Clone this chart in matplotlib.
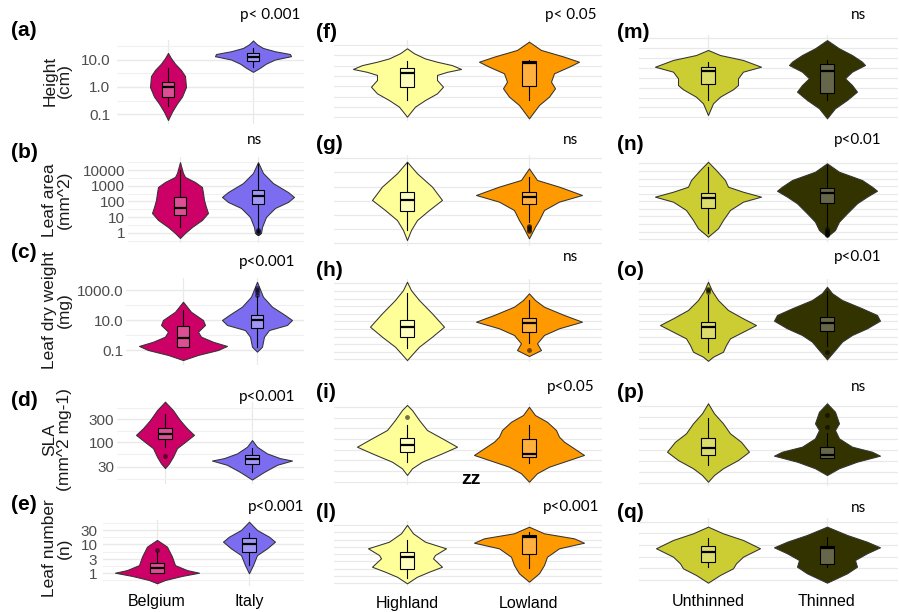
import matplotlib.pyplot as plt
import numpy as np
from matplotlib.patches import Rectangle

# ---- column 1: Belgium vs Italy (y in log10 units) ----
height_belgium = dict(y=[1.24, 1.05, 0.85, 0.62, 0.4, 0.0, -0.35, -0.6, -0.9, -1.2],
                      w=[0, 3, 7, 13, 17, 18, 14, 9, 4, 0],
                      box=[-0.69, -0.36, 0.0, 0.18, 0.69], out=[])
height_italy = dict(y=[1.69, 1.55, 1.42, 1.3, 1.2, 1.12, 1.0, 0.85, 0.7, 0.55],
                    w=[0, 4, 10, 22, 37, 38, 22, 13, 7, 0],
                    box=[0.73, 0.95, 1.09, 1.24, 1.42], out=[])
area_belgium = dict(y=[4.5, 3.81, 3.56, 3.24, 2.92, 2.54, 2.1, 1.65, 1.27, 0.83, 0.38, 0.0, -0.32],
                    w=[0, 3, 5, 15, 22, 23, 24, 26, 28, 22, 12, 5, 0],
                    box=[0.38, 1.14, 1.59, 2.29, 3.97], out=[])
area_italy = dict(y=[4.5, 3.81, 3.17, 2.6, 2.29, 1.97, 1.59, 1.02, 0.38, 0.0, -0.13],
                  w=[0, 5, 15, 30, 36, 30, 17, 8, 4, 3, 0],
                  box=[0.05, 1.84, 2.35, 2.73, 4.4], out=[0.0, 0.1, 0.2])
dryw_belgium = dict(y=[2.22, 1.55, 1.0, 0.67, 0.22, -0.11, -0.45, -0.73, -1.0, -1.33, -1.67],
                    w=[0, 8, 20, 22, 15, 18, 30, 44, 35, 15, 0],
                    box=[-0.82, -0.82, -0.18, 0.6, 1.67], out=[])
dryw_italy = dict(y=[3.55, 2.55, 1.89, 1.33, 1.0, 0.67, 0.33, -0.11, -0.78, -1.11],
                  w=[0, 6, 15, 28, 35, 30, 12, 7, 5, 0],
                  box=[-0.78, 0.44, 1.0, 1.33, 2.6], out=[2.7, 2.85, 3.0, 3.1])
sla_belgium = dict(y=[2.85, 2.67, 2.46, 2.29, 2.15, 2.0, 1.87, 1.69, 1.55, 1.45],
                   w=[0, 8, 15, 22, 29, 20, 12, 8, 4, 0],
                   box=[1.9, 2.06, 2.17, 2.29, 2.6], out=[1.7])
sla_italy = dict(y=[2.04, 1.9, 1.76, 1.66, 1.61, 1.52, 1.37, 1.21],
                 w=[0, 5, 15, 28, 40, 25, 12, 0],
                 box=[1.37, 1.54, 1.64, 1.73, 1.87], out=[])
leafn_belgium = dict(y=[1.14, 0.91, 0.57, 0.28, 0.11, 0.02, -0.09, -0.23, -0.34],
                     w=[0, 10, 15, 18, 30, 42, 25, 8, 0],
                     box=[0.02, 0.02, 0.17, 0.34, 0.72], out=[0.8])
leafn_italy = dict(y=[1.76, 1.48, 1.25, 1.08, 0.85, 0.62, 0.28, 0.0],
                   w=[0, 8, 20, 26, 18, 8, 4, 0],
                   box=[0.28, 0.74, 1.0, 1.19, 1.37], out=[])

# ---- column 2: Highland vs Lowland (unlabelled axis, grid units) ----
f_high = dict(y=[6.68, 6.2, 5.7, 5.38, 5.05, 4.68, 4.4, 4.1, 3.61, 2.96, 2.32, 1.67, 1.03, 0.06],
              w=[0, 7, 18, 30, 45, 54, 40, 30, 30, 36, 30, 18, 8, 0],
              box=[1.67, 2.9, 4.26, 4.74, 5.45], out=[])
f_low = dict(y=[7.32, 6.52, 5.87, 5.38, 4.9, 4.26, 3.45, 2.81, 2.0, 1.19, -0.1],
             w=[0, 12, 35, 50, 40, 25, 22, 26, 20, 10, 0],
             box=[1.67, 3.03, 5.23, 5.45, 5.55], out=[])
g_high = dict(y=[5.76, 4.94, 4.0, 3.06, 2.35, 1.64, 0.94, 0.23],
              w=[0, 10, 25, 35, 22, 10, 4, 0],
              box=[0.94, 2.28, 3.06, 3.6, 5.67], out=[])
g_low = dict(y=[5.29, 4.47, 4.0, 3.41, 2.94, 2.35, 1.64, 1.17, 0.35],
             w=[0, 8, 30, 53, 30, 15, 10, 6, 0],
             box=[1.5, 2.77, 3.25, 3.6, 4.7], out=[0.85, 0.95, 1.05, 1.15, 1.25])
h_high = dict(y=[10.2, 9.1, 7.8, 6.05, 4.29, 2.97, 1.66, 0.79, -0.1],
              w=[0, 4, 12, 25, 37, 25, 12, 6, 0],
              box=[1.45, 2.89, 4.21, 5.17, 8.7], out=[])
h_low = dict(y=[8.68, 7.8, 6.92, 5.83, 4.95, 4.08, 3.2, 2.1, 1.22, 0.43],
             w=[0, 6, 15, 35, 53, 30, 15, 8, 12, 0],
             box=[2.1, 3.55, 4.82, 5.4, 7.8], out=[1.22])
i_high = dict(y=[7.17, 6.7, 5.77, 4.83, 4.06, 3.27, 2.65, 1.87, 1.25, 0.63],
              w=[0, 5, 12, 20, 35, 50, 35, 15, 5, 0],
              box=[1.87, 2.75, 3.43, 4.06, 5.3], out=[6.07])
i_low = dict(y=[7.0, 6.23, 5.6, 4.83, 4.21, 3.74, 3.12, 2.5, 2.03, 1.4, 0.79, 0.0],
             w=[0, 6, 18, 27, 30, 35, 45, 55, 40, 20, 8, 0],
             box=[1.72, 2.34, 2.59, 3.96, 5.3], out=[])
l_high = dict(y=[8.0, 6.85, 5.7, 4.79, 3.88, 3.42, 2.27, 1.59, 0.9, 0.0],
              w=[0, 6, 18, 39, 28, 26, 35, 22, 10, 0],
              box=[0.68, 1.92, 3.64, 4.25, 5.93], out=[])
l_low = dict(y=[7.75, 6.85, 6.16, 5.56, 4.79, 3.64, 2.5, 1.37, 0.22],
             w=[0, 15, 45, 55, 30, 18, 15, 10, 0],
             box=[2.05, 4.0, 6.3, 6.6, 7.07], out=[])

# ---- column 3: Unthinned vs Thinned ----
m_unth = dict(y=[6.8, 6.29, 5.79, 5.11, 4.61, 3.94, 3.26, 2.83, 2.08, 1.41, 0.23],
              w=[0, 12, 35, 53, 35, 30, 30, 25, 12, 5, 0],
              box=[1.75, 3.33, 4.68, 5.11, 5.62], out=[])
m_thin = dict(y=[7.8, 6.97, 6.29, 5.62, 5.28, 4.61, 3.94, 3.26, 2.59, 1.75, 0.91, -0.1],
              w=[0, 12, 25, 35, 38, 25, 18, 25, 30, 20, 8, 0],
              box=[1.75, 2.42, 4.68, 5.38, 5.79], out=[])
n_unth = dict(y=[10.2, 9.12, 7.8, 6.92, 6.26, 5.61, 4.95, 3.86, 2.54, 1.45, 0.79, 0.34],
              w=[0, 8, 17, 20, 35, 53, 35, 22, 15, 10, 4, 0],
              box=[0.79, 4.08, 5.39, 6.05, 9.55], out=[])
n_thin = dict(y=[10.0, 8.89, 7.8, 6.92, 6.39, 5.61, 4.74, 3.42, 2.32, 1.22, 0.34],
              w=[0, 12, 35, 45, 50, 40, 30, 20, 12, 8, 0],
              box=[1.6, 4.82, 6.13, 6.71, 9.8], out=[0.5, 0.7, 0.9, 1.1, 1.3])
o_unth = dict(y=[10.2, 9.0, 7.8, 6.49, 5.39, 4.51, 3.63, 2.76, 1.88, 1.0, 0.34, -0.2],
              w=[0, 4, 10, 20, 35, 48, 35, 22, 18, 15, 5, 0],
              box=[1.0, 2.76, 4.21, 4.95, 8.5], out=[8.9, 9.1, 9.3])
o_thin = dict(y=[9.55, 8.7, 7.8, 6.71, 5.83, 5.08, 4.08, 3.2, 2.32, 1.22, 0.0],
              w=[0, 5, 15, 35, 50, 53, 40, 25, 15, 8, 0],
              box=[1.7, 3.76, 4.82, 5.61, 9.0], out=[1.0])
p_unth = dict(y=[7.25, 6.34, 5.42, 4.51, 3.74, 2.83, 2.07, 1.32, 0.7, 0.09],
              w=[0, 6, 15, 22, 33, 41, 30, 15, 6, 0],
              box=[1.62, 2.53, 3.14, 4.05, 5.88], out=[])
p_thin = dict(y=[7.25, 6.48, 5.42, 4.81, 4.05, 3.29, 2.83, 2.47, 1.92, 1.32, 0.7],
              w=[0, 8, 12, 8, 12, 25, 45, 53, 30, 12, 0],
              box=[2.23, 2.23, 2.53, 3.29, 4.51], out=[6.18, 5.11])
q_unth = dict(y=[4.57, 4.0, 3.43, 2.72, 2.0, 1.43, 1.0, 0.43, -0.23],
              w=[0, 15, 35, 52, 35, 28, 25, 12, 0],
              box=[1.14, 1.57, 2.37, 2.94, 3.57], out=[])
q_thin = dict(y=[4.57, 3.86, 3.28, 2.8, 2.29, 1.71, 1.14, 0.57, -0.23],
              w=[0, 20, 40, 53, 40, 28, 30, 20, 0],
              box=[1.14, 1.35, 2.72, 2.94, 3.66], out=[])

col1_names = ["Belgium", "Italy"]
col2_names = ["Highland", "Lowland"]
col3_names = ["Unthinned", "Thinned"]

col1_titles = ["Height\n(cm)", "Leaf area\n(mm^2)", "Leaf dry weight\n(mg)",
               "SLA\n(mm^2 mg-1)", "Leaf number\n(n)"]
col1_ticks = [[-1, 0, 1], [0, 1, 2, 3, 4], [-1, 1, 3],
              [np.log10(30), 2, np.log10(300)], [0, np.log10(3), 1, np.log10(30)]]
col1_ticklabels = [["0.1", "1.0", "10.0"], ["1", "10", "100", "1000", "10000"],
                   ["0.1", "10.0", "1000.0"], ["30", "100", "300"], ["1", "3", "10", "30"]]

pvals = {"a": "p< 0.001", "b": "ns", "c": "p<0.001", "d": "p<0.001", "e": "p<0.001",
         "f": "p< 0.05", "g": "ns", "h": "ns", "i": "p<0.05", "l": "p<0.001",
         "m": "ns", "n": "p<0.01", "o": "p<0.01", "p": "ns", "q": "ns"}

# colours: (violin, box)
c_belgium = ("#cc0066", "#dc4f95")
c_italy = ("#7b6cf0", "#a197f4")
c_high = ("#ffff99", "#ffffbd")
c_low = ("#ff9900", "#ffb03f")
c_unth = ("#cccc33", "#dddd6b")
c_thin = ("#333300", "#66664a")

W, H = 899, 612
fig = plt.figure(figsize=(W / 100, H / 100), dpi=100)
fig.patch.set_facecolor("white")

GRID = "#e9e9e9"


def px(x, y):
    return x / W, 1 - y / H


def make_ax(box, cats, ycal):
    L, T, R, B = box
    ax = fig.add_axes([L / W, 1 - B / H, (R - L) / W, (B - T) / H])
    s = cats[1] - cats[0]
    ax.set_xlim(1 - (cats[0] - L) / s, 2 + (R - cats[1]) / s)
    p0, v0, ppu = ycal
    ax.set_ylim(v0 - (B - p0) / ppu, v0 + (p0 - T) / ppu)
    for sp in ax.spines.values():
        sp.set_visible(False)
    ax.set_xticks([1, 2])
    ax.tick_params(length=0)
    ax.grid(axis="x", color=GRID, lw=0.9)
    ax.set_axisbelow(True)
    return ax, s


def violin(ax, xc, d, cols, s, bw):
    y = np.array(d["y"])
    hw = np.array(d["w"]) / s
    ax.fill_betweenx(y, xc - hw, xc + hw, facecolor=cols[0], edgecolor="#333333",
                     lw=0.75, zorder=2, clip_on=False)
    lo, q1, med, q3, hi = d["box"]
    ax.plot([xc, xc], [lo, q1], color="black", lw=0.8, zorder=3, clip_on=False)
    ax.plot([xc, xc], [q3, hi], color="black", lw=0.8, zorder=3, clip_on=False)
    ax.add_patch(Rectangle((xc - bw, q1), 2 * bw, q3 - q1, facecolor=cols[1],
                           edgecolor="black", lw=0.8, zorder=4, clip_on=False))
    ax.plot([xc - bw, xc + bw], [med, med], color="black", lw=1.6, zorder=5,
            solid_capstyle="butt", clip_on=False)
    if d["out"]:
        ax.plot([xc] * len(d["out"]), d["out"], "o", color="black", alpha=0.55,
                ms=3.5, mec="none", zorder=5, clip_on=False)


# column 1 layout: box (L, T, R, B) px, category px, (px, value, px per unit), label pad
col1 = [
    ("a", [height_belgium, height_italy], (117, 40, 304, 124), (168, 253), (87, 0, 27.5), 5),
    ("b", [area_belgium, area_italy], (128, 157, 304, 243), (180, 258), (233, 0, 15.75), 2),
    ("c", [dryw_belgium, dryw_italy], (126, 278, 304, 365), (183, 257), (320, 1, 15), 2),
    ("d", [sla_belgium, sla_italy], (117, 402, 304, 484), (165, 252), (442, 2, 47.5), 2),
    ("e", [leafn_belgium, leafn_italy], (103, 520, 304, 586), (157, 249), (573.3, 0, 29.3), 4),
]
col1_label_y = [31, 152, 253, 400, 505]
col1_title_y = [81, 200, 310, 440, 548]
col1_p = [(270, 15), (255, 140), (267, 262), (267, 397), (276, 507)]

for k, (letter, groups, box, cats, ycal, pad) in enumerate(col1):
    ax, s = make_ax(box, cats, ycal)
    lo, hi = ax.get_ylim()
    minors = [v + 0.5 for v in range(int(np.floor(lo)) - 1, int(np.ceil(hi)) + 1)]
    if k == 3:
        minors = [np.log10(30) - 0.26, (np.log10(30) + 2) / 2, (2 + np.log10(300)) / 2,
                  np.log10(300) + 0.24]
    if k == 4:
        t = col1_ticks[4]
        minors = [t[0] - 0.24, (t[0] + t[1]) / 2, (t[1] + t[2]) / 2, (t[2] + t[3]) / 2,
                  t[3] + 0.24]
    if k == 2:
        minors = [-2, 0, 2, 4]
    ax.set_yticks(col1_ticks[k])
    ax.set_yticklabels(col1_ticklabels[k], fontsize=11, color="#4d4d4d",
                       family="Liberation Sans")
    ax.set_yticks([m for m in minors if lo <= m <= hi], minor=True)
    ax.tick_params(axis="y", which="both", length=0, pad=pad)
    ax.grid(axis="y", which="major", color=GRID, lw=1.0)
    ax.grid(axis="y", which="minor", color="#f0f0f0", lw=0.8)
    for xc, d, cols in zip([1, 2], groups, [c_belgium, c_italy]):
        violin(ax, xc, d, cols, s, 0.075)
    if k == 4:
        ax.set_xticklabels(col1_names, fontsize=11.5, family="Liberation Sans")
        ax.tick_params(axis="x", pad=6)
    else:
        ax.set_xticklabels([])
    fig.text(*px(11, col1_label_y[k]), f"({letter})", fontsize=15, fontweight="bold",
             family="Liberation Sans", va="center", ha="left")
    fig.text(*px(57, col1_title_y[k]), col1_titles[k], rotation=90, fontsize=12.5,
             family="Liberation Sans", ha="center", va="center", linespacing=0.95,
             color="#1a1a1a")
    fig.text(*px(*col1_p[k]), pvals[letter], fontsize=11, family="Lato",
             ha="center", va="center")

# columns 2 and 3 layout: letter, groups, box, categories, y calibration, number of grid steps
col2 = [
    ("f", [f_high, f_low], (334, 40, 602, 121), (407, 529), (117.3, 0, 10.33), 7, 32, 15),
    ("g", [g_high, g_low], (334, 155, 602, 246), (407, 529), (243.3, 0, 14.17), 6, 145, 140),
    ("h", [h_high, h_low], (334, 279, 602, 362), (407, 529), (359.3, 0, 7.6), 10, 270, 257),
    ("i", [i_high, i_low], (334, 403, 602, 485), (407, 529), (481.7, 0, 10.7), 7, 393, 387),
    ("l", [l_high, l_low], (334, 521, 602, 586), (407, 529), (583.3, 0, 7.3), 8, 513, 507),
]
col3 = [
    ("m", [m_unth, m_thin], (639, 35, 898, 120), (708, 827), (117.3, 0, 9.9), 8, 32, 15),
    ("n", [n_unth, n_thin], (639, 160, 898, 242), (708, 827), (239.3, 0, 7.6), 10, 145, 140),
    ("o", [o_unth, o_thin], (639, 279, 898, 362), (708, 827), (359.3, 0, 7.6), 10, 270, 257),
    ("p", [p_unth, p_thin], (639, 402, 898, 486), (708, 827), (482.7, 0, 10.95), 7, 393, 387),
    ("q", [q_unth, q_thin], (639, 518, 898, 584), (708, 827), (580, 0, 11.67), 5, 512, 508),
]

for col, colors, names, letter_x, p_x in [(col2, (c_high, c_low), col2_names, 316, 571),
                                          (col3, (c_unth, c_thin), col3_names, 617, 858)]:
    for k, (letter, groups, box, cats, ycal, nsteps, ly, py) in enumerate(col):
        ax, s = make_ax(box, cats, ycal)
        ax.set_yticks(range(nsteps + 1))
        ax.set_yticklabels([])
        ax.grid(axis="y", color=GRID, lw=0.9)
        for xc, d, cols in zip([1, 2], groups, colors):
            violin(ax, xc, d, cols, s, 0.055)
        if k == 4:
            ax.set_xticklabels(names, fontsize=11.5, family="Liberation Sans")
            ax.tick_params(axis="x", pad=7)
        else:
            ax.set_xticklabels([])
        fig.text(*px(letter_x, ly), f"({letter})", fontsize=15, fontweight="bold",
                 family="Liberation Sans", va="center", ha="left")
        fig.text(*px(p_x, py), pvals[letter], fontsize=11, family="Lato",
                 ha="center", va="center")

fig.text(*px(471, 479), "zz", fontsize=14, fontweight="bold", family="Liberation Sans",
         ha="center", va="center")

fig.savefig("out.png", dpi=100, facecolor="white")
